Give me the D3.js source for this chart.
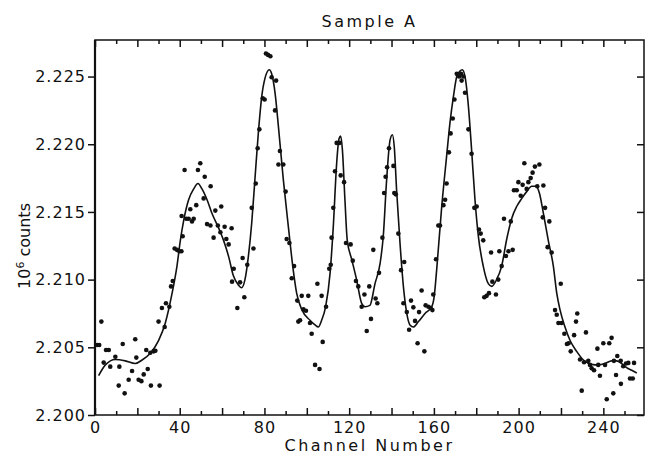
<!DOCTYPE html>
<html>
<head>
<meta charset="utf-8">
<script src="https://cdn.jsdelivr.net/npm/d3@7"></script>
<style>
  body { margin: 0; background: #fff; overflow: hidden; }
  svg { display: block; }
  text { font-family: "DejaVu Sans", sans-serif; fill: #111; }
</style>
</head>
<body>
<svg id="chart"></svg>
<script>
// measured points (channel, 10^6 counts)
var pointChannels = [1, 2, 3, 4.1, 5.2, 6.5, 7.2, 9.6, 11.2, 11.5, 13.1, 14, 15.9, 17.5, 19, 19.5, 20.6, 21.9, 23, 24.2,
    24.9, 26.1, 26.4, 27.7, 28.5, 30, 30.5, 31.6, 32.9, 33.5, 35.1, 35.9, 36.7, 37.6, 38.7, 39.8, 40.8, 40.9, 41.4, 42.3,
    43.1, 44.2, 45, 45.8, 46.6, 47.8, 48.6, 49.7, 51.3, 51.8, 52.9, 54.5, 54.6, 56, 56.8, 58, 59.2, 59.6, 61.2, 62,
    63.1, 64.5, 64.7, 65.5, 67.2, 68.5, 69.7, 70.5, 71.9, 74, 74.8, 75.9, 76.8, 77.6, 79.2, 80.1, 80.7, 81.7, 82.8, 83.4,
    85, 85.5, 86.6, 87.3, 88.9, 90, 90.5, 91.8, 92.9, 94, 95.5, 96, 96.8, 97.6, 98.4, 99.6, 100.7, 101.5, 102.3, 103.9,
    105, 106, 107, 107.5, 109.1, 110.6, 111.3, 111.7, 112.5, 113.3, 114.1, 115.4, 116, 117.6, 118.5, 120.7, 121.7, 123.2, 124.3, 125.9,
    127.2, 128.3, 129.5, 130.3, 131.4, 132.5, 133.3, 134.1, 135.7, 136.5, 137.2, 137.9, 138.8, 140.9, 141.3, 142, 143.2, 144.5, 145.6, 146,
    147.2, 148.3, 149.2, 150.3, 151.1, 152.3, 153, 154.2, 155.5, 156.1, 157.4, 158.5, 159.3, 159.7, 161, 162.1, 162.9, 164.5, 165.3, 166,
    167.1, 167.9, 168.9, 169.7, 170.8, 171.9, 172.8, 173.1, 173.9, 174.7, 176.3, 177.8, 179.1, 180.2, 181.3, 182.1, 183.3, 183.8, 184.9, 186,
    187, 187.6, 189.3, 190.4, 190.9, 192, 193.1, 194, 195.2, 196.3, 197.2, 197.8, 199.1, 199.9, 201, 201.9, 202.7, 203.8, 204.6, 205.7,
    206.6, 207.7, 208.8, 209.8, 211.4, 211.7, 212.5, 213.7, 214.5, 215.6, 217.2, 218, 218.8, 219.9, 220.3, 221.6, 222.8, 223.6, 224.6, 226.2,
    227.1, 227.7, 229, 229.8, 230.9, 231.8, 232.9, 233.7, 234.5, 235.6, 237.2, 237.6, 238.4, 240, 240.8, 241.6, 242.8, 243.9, 244.7, 245,
    246, 246.6, 248.2, 248.3, 249.4, 250.7, 251.8, 252.6, 253.9, 254.5];
var pointCounts = [2.20517, 2.20517, 2.2069, 2.20387, 2.2048, 2.2048, 2.20357, 2.2043, 2.20217, 2.20357, 2.20525, 2.2016, 2.2026, 2.20325, 2.2056, 2.20424, 2.2026, 2.2025, 2.203, 2.2048,
    2.2034, 2.2046, 2.20217, 2.2047, 2.20475, 2.2069, 2.20217, 2.2079, 2.2065, 2.20825, 2.208, 2.2095, 2.2099, 2.2123, 2.2122, 2.2121, 2.2121, 2.2147, 2.2132, 2.2181,
    2.2145, 2.2145, 2.2152, 2.2143, 2.2145, 2.2155, 2.2181, 2.2186, 2.216, 2.2176, 2.2141, 2.214, 2.2169, 2.2131, 2.2151, 2.214, 2.2135, 2.2154, 2.2139, 2.213,
    2.2126, 2.2138, 2.20985, 2.2108, 2.2079, 2.2098, 2.2116, 2.2087, 2.2111, 2.2153, 2.2123, 2.2171, 2.2197, 2.2211, 2.2234, 2.2233, 2.2267, 2.2266, 2.2265, 2.22495,
    2.2225, 2.2247, 2.2185, 2.2195, 2.2185, 2.2165, 2.213, 2.2127, 2.2101, 2.211, 2.20845, 2.2069, 2.207, 2.2088, 2.2078, 2.2077, 2.2088, 2.2068, 2.206, 2.2037,
    2.2097, 2.2034, 2.2088, 2.2054, 2.208, 2.2108, 2.2111, 2.2131, 2.2153, 2.218, 2.2201, 2.2201, 2.2177, 2.2172, 2.2127, 2.2126, 2.2114, 2.2099, 2.2095, 2.208,
    2.2089, 2.2062, 2.2095, 2.2071, 2.2122, 2.2086, 2.20825, 2.2105, 2.2131, 2.2164, 2.2176, 2.2183, 2.2197, 2.2184, 2.2164, 2.2163, 2.2134, 2.2107, 2.20825, 2.2113,
    2.2076, 2.2063, 2.20845, 2.20795, 2.20695, 2.2053, 2.2076, 2.2092, 2.2047, 2.2081, 2.208, 2.2079, 2.20775, 2.2089, 2.2115, 2.214, 2.214, 2.2155, 2.2159, 2.2171,
    2.2194, 2.2208, 2.2219, 2.2233, 2.2252, 2.225, 2.2252, 2.2247, 2.225, 2.2238, 2.2211, 2.2193, 2.2153, 2.2154, 2.2137, 2.2134, 2.2129, 2.2087, 2.2088, 2.209,
    2.212, 2.20985, 2.2089, 2.21, 2.2121, 2.211, 2.2145, 2.21175, 2.2121, 2.2143, 2.2122, 2.2166, 2.2166, 2.2172, 2.2162, 2.217, 2.2186, 2.2167, 2.2172, 2.2175,
    2.2179, 2.21835, 2.2169, 2.2185, 2.2146, 2.21695, 2.2153, 2.2124, 2.2143, 2.212, 2.20775, 2.2074, 2.2068, 2.2097, 2.2068, 2.206, 2.20525, 2.2053, 2.2047, 2.2059,
    2.2069, 2.2075, 2.2041, 2.2018, 2.2039, 2.2061, 2.204, 2.2037, 2.20345, 2.2033, 2.2049, 2.2037, 2.2029, 2.2053, 2.2037, 2.20116, 2.2053, 2.2057, 2.2016, 2.204,
    2.20296, 2.20436, 2.204, 2.2023, 2.2036, 2.2038, 2.20385, 2.2027, 2.2027, 2.20385];

// fitted curve read at these channels
var fitChannels = [1.7, 4.9, 9.6, 14.3, 19, 22.2, 26, 30, 33.2, 36.4, 38.7, 40.3, 41.9, 44.2, 46.6, 48.6, 50.5, 52.9, 55.2, 58.4,
    60.7, 63.1, 65.3, 67.7, 69.2, 70.8, 72.4, 74, 75.5, 77.1, 78.7, 80.3, 82.3, 83.4, 85, 86.6, 88.9, 91.3, 93.6, 95.2,
    97.6, 101.5, 103.9, 105.4, 107, 108.9, 111, 112.5, 114.1, 115.2, 116, 116.8, 118, 119.1, 121.2, 123.5, 125.9, 127.5, 129.8, 132.2,
    134.6, 136.1, 137.7, 139.3, 140.4, 141.3, 142.4, 144, 145.6, 147.2, 148.7, 150.3, 152.7, 155.8, 159, 160.1, 161.3, 163.7, 166, 167.6,
    169.2, 170.8, 172.3, 173.4, 174.7, 176.3, 177.8, 179.4, 181, 183.3, 185.7, 187.3, 189.6, 192, 194.4, 196.7, 199.1, 201.5, 203.8, 206.2,
    208.2, 209.8, 211.7, 214, 216.4, 218, 219.5, 221.9, 224.3, 227.4, 230.6, 234.5, 237.6, 240.8, 243.9, 246.3, 248.7, 251, 253.4, 255.8];
var fitCounts = [2.2029, 2.2037, 2.2041, 2.204, 2.2038, 2.20406, 2.20455, 2.2055, 2.2068, 2.209, 2.211, 2.2129, 2.2144, 2.2159, 2.2167, 2.2171, 2.2167, 2.2159, 2.2149, 2.2138,
    2.2129, 2.2117, 2.2103, 2.2096, 2.2094, 2.21, 2.2117, 2.2142, 2.2174, 2.2208, 2.2235, 2.2249, 2.2255, 2.2252, 2.2238, 2.2213, 2.2174, 2.2139, 2.2107, 2.209,
    2.2078, 2.207, 2.20665, 2.2065, 2.207, 2.208, 2.2105, 2.2139, 2.2186, 2.2204, 2.2206, 2.2196, 2.2159, 2.2129, 2.2115, 2.21, 2.20825, 2.208, 2.2081, 2.2097,
    2.2112, 2.2132, 2.2174, 2.2203, 2.2207, 2.2198, 2.2166, 2.2127, 2.2095, 2.2075, 2.20665, 2.2065, 2.2069, 2.2075, 2.208, 2.2087, 2.2107, 2.2154, 2.2191, 2.2216,
    2.2235, 2.225, 2.2254, 2.2255, 2.225, 2.2228, 2.2196, 2.2159, 2.2132, 2.211, 2.2097, 2.2095, 2.21, 2.211, 2.213, 2.2145, 2.2154, 2.216, 2.2165, 2.2169,
    2.2169, 2.2164, 2.2149, 2.2129, 2.211, 2.209, 2.2078, 2.2065, 2.2055, 2.2047, 2.20406, 2.20374, 2.2037, 2.2038, 2.204, 2.204, 2.2038, 2.2035, 2.2033, 2.2031];

var xTicks = [0, 40, 80, 120, 160, 200, 240];
var yTicks = [2.200, 2.205, 2.210, 2.215, 2.220, 2.225];

var width = 645, height = 455;
var plotLeft = 95, plotRight = 644, plotTop = 40, plotBottom = 415;

var svg = d3.select('#chart')
    .attr('width', width)
    .attr('height', height);

var x = d3.scaleLinear().domain([0, 259.2]).range([plotLeft, plotRight]);
var y = d3.scaleLinear().domain([2.200, 2.2277]).range([plotBottom, plotTop]);

var minorX = d3.range(0, 260, 10);

function tickLen(d) { return d % 20 === 0 ? 7 : 4; }

// bottom axis, ticks point into the plot
var gx = svg.append('g')
    .attr('transform', 'translate(0,' + plotBottom + ')')
    .call(d3.axisBottom(x).tickValues(minorX).tickSize(0).tickPadding(7)
        .tickFormat(function(d) { return xTicks.indexOf(d) >= 0 ? d : ''; }));
gx.selectAll('.tick line').attr('y2', function(d) { return -tickLen(d); });

var gxTop = svg.append('g')
    .attr('transform', 'translate(0,' + plotTop + ')')
    .call(d3.axisTop(x).tickValues(minorX).tickSize(0).tickFormat(''));
gxTop.selectAll('.tick line').attr('y2', function(d) { return tickLen(d); });

svg.append('g')
    .attr('transform', 'translate(' + plotLeft + ',0)')
    .call(d3.axisLeft(y).tickValues(yTicks).tickSize(7).tickPadding(2)
        .tickFormat(d3.format('.3f')));

svg.append('g')
    .attr('transform', 'translate(' + plotRight + ',0)')
    .call(d3.axisRight(y).tickValues(yTicks).tickSize(-7).tickFormat(''));

svg.selectAll('.domain').remove();
svg.selectAll('.tick line').attr('stroke', '#111').attr('stroke-width', 1.5);
svg.selectAll('.tick text')
    .attr('font-size', 16)
    .attr('letter-spacing', 1)
    .attr('font-family', '"DejaVu Sans", sans-serif')
    .attr('fill', '#111');

// frame
svg.append('rect')
    .attr('x', plotLeft).attr('y', plotTop)
    .attr('width', plotRight - plotLeft).attr('height', plotBottom - plotTop)
    .attr('fill', 'none').attr('stroke', '#111').attr('stroke-width', 1.5);
svg.append('line')
    .attr('x1', plotLeft).attr('x2', plotLeft).attr('y1', plotTop).attr('y2', plotBottom)
    .attr('stroke', '#111').attr('stroke-width', 2.2);

// fitted curve
var fit = fitChannels.map(function(c, i) { return [c, fitCounts[i]]; });
var line = d3.line()
    .x(function(d) { return x(d[0]); })
    .y(function(d) { return y(d[1]); })
    .curve(d3.curveMonotoneX);

svg.append('path')
    .datum(fit)
    .attr('d', line)
    .attr('fill', 'none')
    .attr('stroke', '#111')
    .attr('stroke-width', 1.6);

// data points
svg.append('g').selectAll('circle')
    .data(pointChannels)
    .enter().append('circle')
    .attr('cx', function(d) { return x(d); })
    .attr('cy', function(d, i) { return y(pointCounts[i]); })
    .attr('r', 2.3)
    .attr('fill', '#111');

svg.append('text')
    .attr('x', (plotLeft + plotRight) / 2)
    .attr('y', 27)
    .attr('text-anchor', 'middle')
    .attr('font-size', 16)
    .attr('letter-spacing', 2.5)
    .text('Sample A');

svg.append('text')
    .attr('x', (plotLeft + plotRight) / 2)
    .attr('y', 451)
    .attr('text-anchor', 'middle')
    .attr('font-size', 16)
    .attr('letter-spacing', 2.5)
    .text('Channel Number');

var ylab = svg.append('text')
    .attr('transform', 'translate(30,246) rotate(-90)')
    .attr('text-anchor', 'middle')
    .attr('font-size', 16);
ylab.append('tspan').text('10');
ylab.append('tspan').attr('dy', -6).attr('font-size', 11).text('6');
ylab.append('tspan').attr('dy', 6).text(' counts');
</script>
</body>
</html>
